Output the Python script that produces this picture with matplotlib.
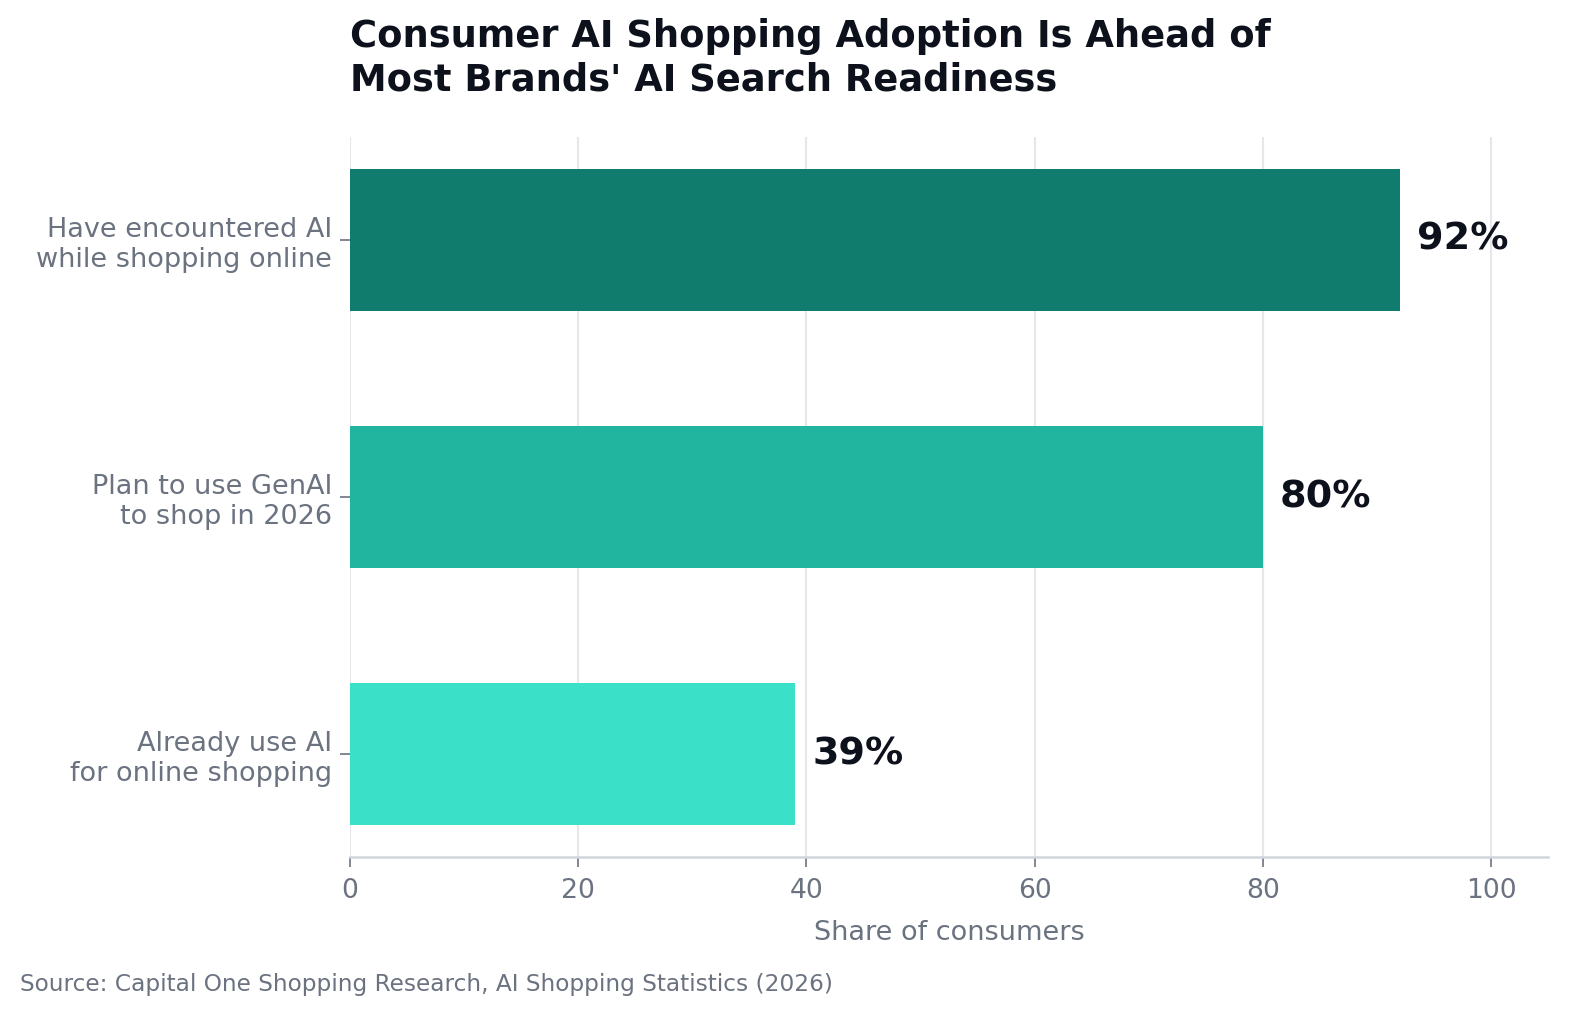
import numpy as np
import matplotlib.pyplot as plt

# Data
categories = ["Have encountered AI\nwhile shopping online",
              "Plan to use GenAI\nto shop in 2026",
              "Already use AI\nfor online shopping"]
values = [92, 80, 39]
colors = ["#0f7c6e", "#21b5a0", "#3ae0c8"]
xticks = [0, 20, 40, 60, 80, 100]

TEXT_DARK = "#0d111c"
TEXT_GRAY = "#6b7280"


def main():
    fig = plt.figure(figsize=(15.94 / 1.5, 10.35 / 1.5), dpi=150)
    ax = fig.add_axes([350 / 1594, 1 - 857 / 1035, (1548 - 350) / 1594, (857 - 137) / 1035])

    y = np.arange(len(categories))
    ax.barh(y, values, height=0.55, color=colors, zorder=2)
    for yi, v in zip(y, values):
        ax.text(v + 1.5, yi, f"{v}%", va="center", ha="left",
                fontsize=18.3, fontweight="bold", color=TEXT_DARK)

    ax.set_yticks(y)
    ax.set_yticklabels(categories, fontsize=13, color=TEXT_GRAY)
    ax.set_ylim(2.4, -0.4)
    ax.set_xlim(0, 105)
    ax.set_xticks(xticks)
    ax.tick_params(axis="x", labelsize=12.8, labelcolor=TEXT_GRAY, color=TEXT_GRAY,
                   length=5, pad=5)
    ax.tick_params(axis="y", color=TEXT_GRAY, length=5)
    ax.set_xlabel("Share of consumers", fontsize=13, color=TEXT_GRAY, labelpad=8)

    ax.grid(axis="x", color="#e5e7eb", linewidth=1.0, zorder=0)
    ax.set_axisbelow(True)
    for side in ["top", "right", "left"]:
        ax.spines[side].set_visible(False)
    ax.spines["bottom"].set_color("#d1d5db")
    ax.spines["bottom"].set_linewidth(1.2)

    fig.text(350 / 1594, 1 - 18 / 1035,
             "Consumer AI Shopping Adoption Is Ahead of\nMost Brands' AI Search Readiness",
             ha="left", va="top", fontsize=17.7, fontweight="bold", color=TEXT_DARK,
             linespacing=1.22)
    fig.text(20 / 1594, 1 - 985 / 1035,
             "Source: Capital One Shopping Research, AI Shopping Statistics (2026)",
             ha="left", va="center", fontsize=11.2, color=TEXT_GRAY)

    fig.savefig("out.png", dpi=150)


if __name__ == "__main__":
    main()
